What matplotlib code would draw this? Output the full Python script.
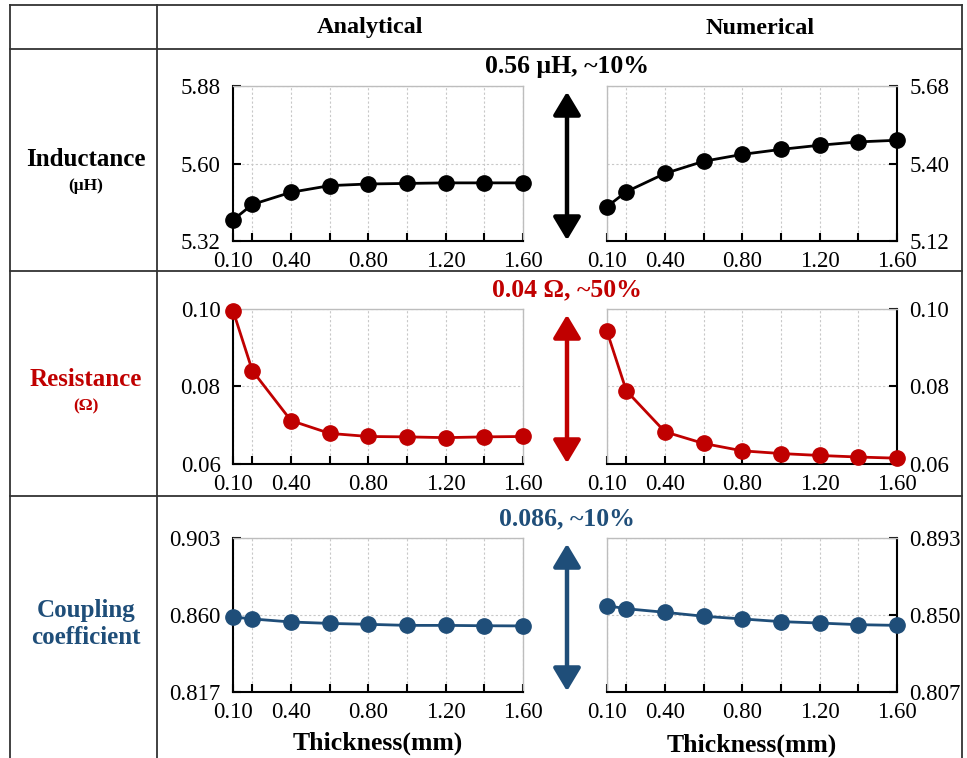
import matplotlib
matplotlib.use("Agg")
import matplotlib.pyplot as plt
from matplotlib.lines import Line2D
from matplotlib.patches import FancyArrowPatch

plt.rcParams['font.family'] = ['Liberation Serif', 'DejaVu Serif']

# ---------------- data ----------------
thickness = [0.10, 0.20, 0.40, 0.60, 0.80, 1.00, 1.20, 1.40, 1.60]
xtick_labels = ["0.10", "", "0.40", "", "0.80", "", "1.20", "", "1.60"]

ind_analytical = [5.396, 5.452, 5.496, 5.520, 5.526, 5.528, 5.530, 5.530, 5.530]
ind_numerical = [5.244, 5.298, 5.364, 5.408, 5.433, 5.451, 5.466, 5.478, 5.484]
res_analytical = [0.0996, 0.0841, 0.0712, 0.0679, 0.0671, 0.0670, 0.0668, 0.0670, 0.0671]
res_numerical = [0.0942, 0.0789, 0.0683, 0.0653, 0.0634, 0.0627, 0.0622, 0.0618, 0.0615]
cpl_analytical = [0.8589, 0.8578, 0.8561, 0.8553, 0.8548, 0.8542, 0.8542, 0.8540, 0.8539]
cpl_numerical = [0.8552, 0.8535, 0.8515, 0.8493, 0.8478, 0.8463, 0.8455, 0.8446, 0.8442]

ind_left_ticks = [5.32, 5.60, 5.88]
ind_right_ticks = [5.12, 5.40, 5.68]
res_ticks = [0.06, 0.08, 0.10]
cpl_left_ticks = [0.817, 0.860, 0.903]
cpl_right_ticks = [0.807, 0.850, 0.893]

col_titles = ["Analytical", "Numerical"]
row_titles = ["Inductance", "Resistance", "Coupling\ncoefficient"]
row_units = ["(μH)", "(Ω)", ""]
annotations = ["0.56 μH, ~10%", "0.04 Ω, ~50%", "0.086, ~10%"]
xlabel = "Thickness(mm)"

BLACK = "#000000"
RED = "#C00000"
BLUE = "#1F4E79"
colors = [BLACK, RED, BLUE]

W, H = 967, 758
fig = plt.figure(figsize=(W / 100, H / 100), dpi=100)


def rect(x0, y0, x1, y1):
    return [x0 / W, 1 - y1 / H, (x1 - x0) / W, (y1 - y0) / H]


def fx(x):
    return x / W


def fy(y):
    return 1 - y / H


# table lines
line_kw = dict(color="#333333", lw=1.3, transform=fig.transFigure)
for yy in [5, 49, 271, 496]:
    fig.add_artist(Line2D([fx(10), fx(962)], [fy(yy), fy(yy)], **line_kw))
for xx in [10, 157, 962]:
    fig.add_artist(Line2D([fx(xx), fx(xx)], [fy(5), fy(758)], **line_kw))

# column titles
fig.text(fx(370), fy(28), col_titles[0], ha="center", va="center",
         fontsize=17.5, fontweight="bold")
fig.text(fx(760), fy(28), col_titles[1], ha="center", va="center",
         fontsize=17.5, fontweight="bold")

rows_y = [(86, 241), (309, 464), (538, 692)]
left_x = (233, 523)
right_x = (607, 897)

data = [
    (ind_analytical, ind_numerical, ind_left_ticks, ind_right_ticks,
     ["5.32", "5.60", "5.88"], ["5.12", "5.40", "5.68"]),
    (res_analytical, res_numerical, res_ticks, res_ticks,
     ["0.06", "0.08", "0.10"], ["0.06", "0.08", "0.10"]),
    (cpl_analytical, cpl_numerical, cpl_left_ticks, cpl_right_ticks,
     ["0.817", "0.860", "0.903"], ["0.807", "0.850", "0.893"]),
]


def style_axes(ax, side, yticks, ylabels, color):
    ax.set_xlim(thickness[0], thickness[-1])
    ax.set_ylim(yticks[0], yticks[-1])
    ax.set_xticks(thickness)
    ax.set_xticklabels(xtick_labels)
    ax.set_yticks(yticks)
    ax.set_yticklabels(ylabels)
    ax.grid(True, color="#C8C8C8", linestyle=(0, (2, 2)), lw=0.8)
    ax.set_axisbelow(True)
    for s in ax.spines.values():
        s.set_color("#BDBDBD")
        s.set_linewidth(1.0)
    ax.spines["bottom"].set_color("black")
    ax.spines["bottom"].set_linewidth(1.5)
    ax.spines[side].set_color("black")
    ax.spines[side].set_linewidth(1.5)
    ax.tick_params(axis="x", direction="in", length=6, width=1.5,
                   labelsize=16.5, pad=7)
    if side == "left":
        ax.tick_params(axis="y", direction="in", length=6, width=1.5,
                       labelsize=16.5, pad=9, left=True, right=False)
    else:
        ax.yaxis.tick_right()
        ax.tick_params(axis="y", direction="in", length=6, width=1.5,
                       labelsize=16.5, pad=9, left=False, right=True)


for i, (ya, yn, lt, rt, ll, rl) in enumerate(data):
    y0, y1 = rows_y[i]
    c = colors[i]
    axl = fig.add_axes(rect(left_x[0], y0, left_x[1], y1))
    axl.plot(thickness, ya, color=c, lw=2, marker="o", ms=11, clip_on=False, zorder=5)
    style_axes(axl, "left", lt, ll, c)
    axr = fig.add_axes(rect(right_x[0], y0, right_x[1], y1))
    axr.plot(thickness, yn, color=c, lw=2, marker="o", ms=11, clip_on=False, zorder=5)
    style_axes(axr, "right", rt, rl, c)

    # arrow
    arr = FancyArrowPatch((fx(567), fy(y0 + 3)), (fx(567), fy(y1 + 2)),
                          transform=fig.transFigure,
                          arrowstyle="<|-|>,head_length=1.0,head_width=0.6",
                          mutation_scale=14, color=c, lw=3.2)
    fig.add_artist(arr)
    # annotation
    fig.text(fx(567), fy(y0 - 19), annotations[i], ha="center", va="center",
             fontsize=18.5, fontweight="bold", color=c)

# row labels
fig.text(fx(86), fy(160), row_titles[0], ha="center", va="center",
         fontsize=18, fontweight="bold", color=BLACK)
fig.text(fx(86), fy(186), row_units[0], ha="center", va="center",
         fontsize=12.5, fontweight="bold", color=BLACK)
fig.text(fx(86), fy(380), row_titles[1], ha="center", va="center",
         fontsize=18, fontweight="bold", color=RED)
fig.text(fx(86), fy(406), row_units[1], ha="center", va="center",
         fontsize=12.5, fontweight="bold", color=RED)
fig.text(fx(86), fy(624), row_titles[2], ha="center", va="center",
         fontsize=18, fontweight="bold", color=BLUE, linespacing=1.25)

# x labels
fig.text(fx(378), fy(743), xlabel, ha="center", va="center",
         fontsize=18.5, fontweight="bold")
fig.text(fx(752), fy(745), xlabel, ha="center", va="center",
         fontsize=18.5, fontweight="bold")

fig.savefig("out.png", dpi=100, facecolor="white")
